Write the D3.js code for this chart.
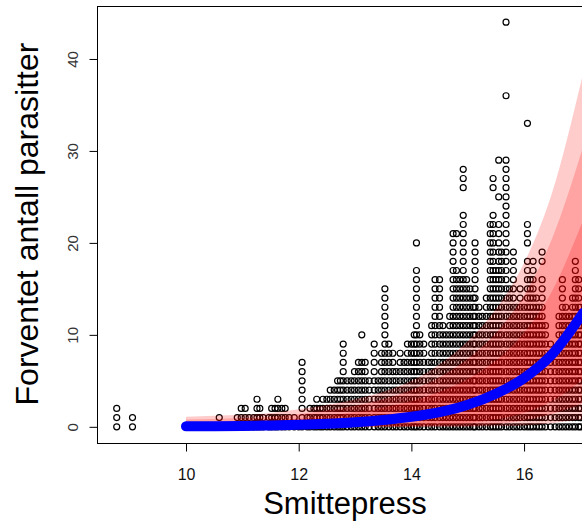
<!DOCTYPE html>
<html>
<head>
<meta charset="utf-8">
<script src="https://cdn.jsdelivr.net/npm/d3@7"></script>
<style>
  body { margin: 0; background: #fff; }
  svg { display: block; }
  text { font-family: "Liberation Sans", Arial, sans-serif; }
</style>
</head>
<body>
<svg id="chart" width="582" height="523"></svg>
<script>
// observed points, one column per x value, y values as "a-b" runs
const colX = [8.77, 9.05, 10.59,
  10.91, 10.98, 11.05, 11.12, 11.2, 11.26, 11.31, 11.37,
  11.47, 11.52, 11.58, 11.63, 11.7, 11.76, 11.83, 11.92, 12.0, 12.06,
  12.15, 12.2, 12.27, 12.32, 12.38, 12.43, 12.5, 12.56, 12.63, 12.69, 12.74, 12.79,
  12.86, 12.93, 12.99, 13.06, 13.12, 13.18, 13.25, 13.34, 13.41, 13.47,
  13.53, 13.6, 13.67, 13.73, 13.8, 13.87, 13.93, 14.0, 14.05, 14.09, 14.15, 14.22,
  14.3, 14.36, 14.42, 14.5, 14.56, 14.62, 14.68, 14.74, 14.8, 14.86, 14.92, 14.98,
  15.04, 15.1, 15.13, 15.2, 15.26, 15.33, 15.4, 15.45, 15.5, 15.55, 15.6, 15.68,
  15.74, 15.81, 15.87, 15.93, 16.0, 16.06, 16.11, 16.16, 16.22, 16.27, 16.32, 16.38,
  16.47, 16.55, 16.62, 16.68, 16.74, 16.8, 16.86, 16.91, 16.97, 17.0];
const colY = ["0-2", "0-1", "0-1",
  "0-1", "0-2", "0-2", "0-1", "0-1", "0-3", "0-2", "0-1",
  "0-1", "0-2", "0-2", "0-3", "0-2", "0-2", "0-1", "0-1", "0", "0-7",
  "0-1", "0-2", "0-2", "0-3", "0-2", "0-3", "0-3", "0-4", "0-4", "0-5", "0-5", "0-9",
  "0-5", "0-5", "0-6", "0-7", "0-7,10", "0-7", "0-5", "0-9", "0-5", "0-8",
  "0-15", "0-9", "0-8", "0-6", "0-8", "0-7", "0-9", "0-9", "0-10", "0-17,20", "0-10", "0-9",
  "0-7", "0-11", "0-16", "0-16", "0-11", "0-10", "0-12", "0-21", "0-17,21", "0-16", "0-23,26-28", "0-16",
  "0-15", "0-14", "0-20", "0-13", "0-12", "0-14", "0-22", "0-23,26,27", "0-17", "0-22,25,29", "0-19", "0-29,36,44",
  "0-15", "0-19", "0-13", "0-15", "0-13", "0-18,20-22,33", "0-16", "0-18", "0-14", "0-13", "0-16,18,19", "0-11",
  "0-9", "0-8", "0-12", "0-16", "0-13", "0-12", "0-14", "0-18", "0-16", "0-13"];

// fitted mean and interval bands, read at these x values
const curveX  = [10, 10.5, 11, 11.5, 12, 12.5, 13, 13.5, 14, 14.5, 15, 15.5, 16, 16.5, 17.05];
const meanY   = [0.05, 0.07, 0.1, 0.15, 0.22, 0.33, 0.5, 0.75, 1.1, 1.6, 2.4, 3.6, 5.3, 7.9, 12.4];
const outerHi = [1.1, 1.2, 1.3, 1.5, 1.9, 2.4, 3.0, 3.8, 5.0, 6.8, 9.3, 12.8, 17.8, 25.5, 38.5];
const outerLo = [0, 0, 0, 0, 0, 0, 0, 0, 0, 0, 0, 0.05, 0.15, 0.4, 0.8];
const midHi   = [0.8, 0.85, 0.95, 1.1, 1.4, 1.8, 2.3, 3.0, 4.0, 5.4, 7.4, 10.2, 14.3, 20.5, 30.5];
const midLo   = [0, 0, 0, 0, 0, 0, 0, 0, 0, 0.05, 0.1, 0.3, 0.7, 1.4, 2.6];
const innerHi = [0.5, 0.55, 0.6, 0.7, 0.9, 1.2, 1.6, 2.1, 2.8, 3.8, 5.2, 7.2, 10.2, 14.8, 22.5];
const innerLo = [0, 0, 0, 0, 0, 0, 0, 0.05, 0.1, 0.2, 0.4, 0.8, 1.5, 2.8, 5.2];

const xTicks = [10, 12, 14, 16];
const yTicks = [0, 10, 20, 30, 40];
const xTitle = "Smittepress";
const yTitle = "Forventet antall parasitter";

const parseRuns = (spec) => {
  var out = [];
  spec.split(",").forEach((part) => {
    var ends = part.split("-").map(Number);
    var lo = ends[0], hi = ends.length > 1 ? ends[1] : ends[0];
    for (var v = lo; v <= hi; v++) out.push(v);
  });
  return out;
};

var points = [];
colX.forEach((cx, i) => {
  parseRuns(colY[i]).forEach((cy) => points.push({ x: cx, y: cy }));
});

const svg = d3.select("#chart");
const plotLeft = 97, plotRight = 599, plotTop = 6, plotBottom = 443;

var xScale = d3.scaleLinear().domain([8.42, 17.33]).range([plotLeft, plotRight]);
var yScale = d3.scaleLinear().domain([-1.76, 45.76]).range([plotBottom, plotTop]);

svg.append("clipPath").attr("id", "plotclip")
  .append("rect")
  .attr("x", plotLeft).attr("y", plotTop)
  .attr("width", plotRight - plotLeft).attr("height", plotBottom - plotTop);

var plot = svg.append("g").attr("clip-path", "url(#plotclip)");

plot.selectAll("circle")
  .data(points)
  .enter()
  .append("circle")
  .attr("cx", (d) => xScale(d.x))
  .attr("cy", (d) => yScale(d.y))
  .attr("r", 3)
  .attr("fill", "none")
  .attr("stroke", "#000")
  .attr("stroke-width", 1.2);

// three nested intervals, same translucent red, drawn over the points
const bands = [[outerLo, outerHi], [midLo, midHi], [innerLo, innerHi]];
bands.forEach((b) => {
  var area = d3.area()
    .x((d, i) => xScale(curveX[i]))
    .y0((d, i) => yScale(b[0][i]))
    .y1((d, i) => yScale(b[1][i]))
    .curve(d3.curveMonotoneX);
  plot.append("path")
    .attr("d", area(curveX))
    .attr("fill", "rgba(255,0,0,0.2)");
});

var meanLine = d3.line()
  .x((d, i) => xScale(curveX[i]))
  .y((d, i) => yScale(meanY[i]))
  .curve(d3.curveMonotoneX);
plot.append("path")
  .attr("d", meanLine(curveX))
  .attr("fill", "none")
  .attr("stroke", "#0000ff")
  .attr("stroke-width", 10)
  .attr("stroke-linecap", "round");

// axes
var xAxis = svg.append("g")
  .attr("transform", "translate(0," + (plotBottom + 0.5) + ")")
  .call(d3.axisBottom(xScale).tickValues(xTicks).tickSize(8).tickSizeOuter(0));
xAxis.select(".domain").remove();
xAxis.selectAll("text")
  .attr("y", 36).attr("dy", 0)
  .attr("font-size", 16)
  .attr("fill", "#111")
  .style("font-family", "'Liberation Sans', Arial, sans-serif");

var yAxis = svg.append("g")
  .attr("transform", "translate(" + (plotLeft + 0.5) + ",0)")
  .call(d3.axisLeft(yScale).tickValues(yTicks).tickSize(8).tickSizeOuter(0));
yAxis.select(".domain").remove();
yAxis.selectAll("text")
  .attr("transform", "rotate(-90)")
  .attr("x", 0).attr("y", -20).attr("dy", 0)
  .attr("text-anchor", "middle")
  .attr("font-size", 15)
  .attr("fill", "#333")
  .style("font-family", "'Liberation Sans', Arial, sans-serif");

svg.append("rect")
  .attr("x", plotLeft + 0.5).attr("y", plotTop + 0.5)
  .attr("width", plotRight - plotLeft).attr("height", plotBottom - plotTop)
  .attr("fill", "none")
  .attr("stroke", "#000")
  .attr("stroke-width", 1);

svg.append("text")
  .attr("x", 345).attr("y", 514)
  .attr("text-anchor", "middle")
  .attr("font-size", 31)
  .text(xTitle);

svg.append("text")
  .attr("transform", "translate(38,224) rotate(-90)")
  .attr("text-anchor", "middle")
  .attr("font-size", 32)
  .text(yTitle);
</script>
</body>
</html>
